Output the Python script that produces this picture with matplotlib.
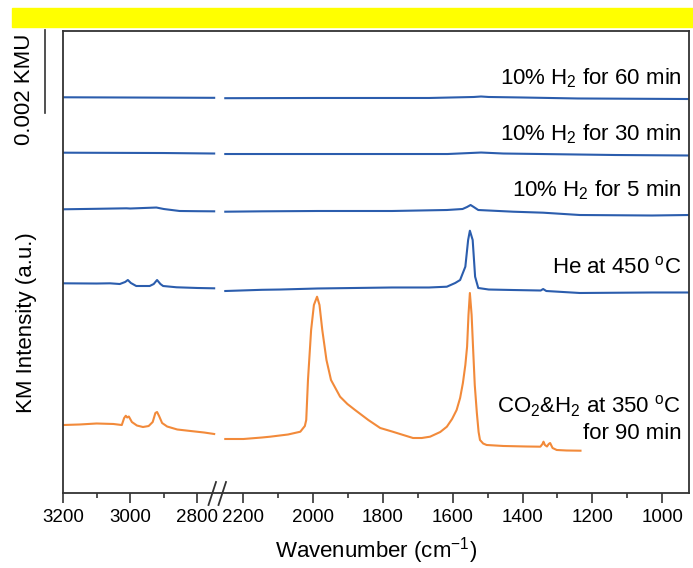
import numpy as np
import matplotlib
matplotlib.use("Agg")
import matplotlib.pyplot as plt
from matplotlib.patches import Rectangle
from matplotlib.lines import Line2D
import matplotlib.transforms as mtransforms

plt.rcParams['font.family'] = ['Liberation Sans', 'DejaVu Sans']
plt.rcParams['mathtext.fontset'] = 'custom'
plt.rcParams['mathtext.rm'] = 'Liberation Sans'
plt.rcParams['mathtext.it'] = 'Liberation Sans:italic'

# stacked KM spectra, y in units of 1e-3 KMU (offsets already included)
# left part of the broken axis (3200-2750) and right part (2250-~920)
co2_l_wn = [3200, 3150, 3100, 3050, 3025, 3018, 3013, 3009, 3004, 2995, 2980, 2962, 2945,
            2933, 2925, 2920, 2914, 2905, 2890, 2860, 2820, 2780, 2750]
co2_l_km = [1.644, 1.657, 1.681, 1.669, 1.644, 1.814, 1.869, 1.826, 1.850, 1.717, 1.632, 1.596,
            1.620, 1.717, 1.935, 1.959, 1.862, 1.693, 1.608, 1.536, 1.499, 1.463, 1.427]
co2_r_wn = [2252, 2200, 2147, 2123, 2072, 2037, 2024, 2020, 2015, 2006, 1998, 1989, 1982, 1974,
            1962, 1949, 1923, 1902, 1880, 1842, 1808, 1774, 1742, 1714, 1689, 1665, 1636, 1617,
            1602, 1589, 1579, 1571, 1564, 1559, 1555, 1551, 1546, 1542, 1537, 1531, 1526, 1522,
            1513, 1503, 1455, 1391, 1349, 1343, 1340, 1336, 1330, 1325, 1321, 1314, 1302, 1274,
            1234]
co2_r_km = [1.306, 1.306, 1.342, 1.362, 1.415, 1.482, 1.620, 1.765, 2.733, 3.942, 4.547, 4.747,
            4.547, 3.942, 3.216, 2.733, 2.329, 2.152, 2.007, 1.765, 1.572, 1.487, 1.403, 1.330,
            1.330, 1.362, 1.475, 1.603, 1.790, 2.007, 2.297, 2.660, 3.096, 3.538, 4.305, 4.837,
            4.305, 3.538, 2.612, 1.935, 1.475, 1.282, 1.197, 1.161, 1.137, 1.125, 1.120, 1.185,
            1.241, 1.161, 1.125, 1.185, 1.209, 1.088, 1.040, 1.028, 1.023]

he_l_wn = [3200, 3100, 3060, 3031, 3015, 3007, 2998, 2982, 2942, 2930, 2920, 2910, 2902,
           2862, 2800, 2750]
he_l_km = [5.071, 5.066, 5.071, 5.054, 5.103, 5.151, 5.079, 5.006, 5.006, 5.054, 5.151,
           5.054, 5.006, 4.975, 4.958, 4.950]
he_r_wn = [2252, 2147, 2094, 1987, 1881, 1774, 1668, 1617, 1593, 1579, 1564, 1556, 1551,
           1543, 1536, 1527, 1497, 1427, 1348, 1341, 1332, 1236, 1029, 923]
he_r_km = [4.885, 4.914, 4.921, 4.946, 4.958, 4.970, 4.970, 4.989, 5.079, 5.151, 5.473,
           6.119, 6.343, 6.119, 5.231, 4.958, 4.921, 4.909, 4.897, 4.933, 4.885, 4.837,
           4.849, 4.849]

h5_l_wn = [3200, 3100, 3011, 3000, 2922, 2900, 2853, 2800, 2750]
h5_l_km = [6.861, 6.873, 6.885, 6.880, 6.904, 6.868, 6.820, 6.815, 6.812]
h5_r_wn = [2252, 2147, 1987, 1774, 1617, 1572, 1559, 1549, 1540, 1527, 1427, 1341, 1236,
           1029, 923]
h5_r_km = [6.803, 6.812, 6.820, 6.820, 6.844, 6.868, 6.917, 6.965, 6.917, 6.844, 6.803,
           6.779, 6.723, 6.711, 6.723]

h30_l_wn = [3200, 2900, 2750]
h30_l_km = [8.230, 8.222, 8.210]
h30_r_wn = [2252, 1987, 1615, 1519, 1455, 1348, 1135, 923]
h30_r_km = [8.198, 8.198, 8.198, 8.234, 8.210, 8.198, 8.174, 8.162]

h60_l_wn = [3200, 2750]
h60_l_km = [9.570, 9.557]
h60_r_wn = [2252, 1987, 1668, 1540, 1519, 1497, 1402, 1242, 923]
h60_r_km = [9.548, 9.553, 9.553, 9.577, 9.589, 9.577, 9.565, 9.541, 9.528]

labels = ['10% H$_2$ for 60 min', '10% H$_2$ for 30 min', '10% H$_2$ for 5 min',
          'He at 450 $^{\\rm o}$C', 'CO$_2$&H$_2$ at 350 $^{\\rm o}$C\nfor 90 min']
label_y = [10.036, 8.682, 7.328, 5.466, 1.790]

major_ticks = [3200, 3000, 2800, 2200, 2000, 1800, 1600, 1400, 1200, 1000]
minor_ticks = [3100, 2900, 2100, 1900, 1700, 1500, 1300, 1100]

blue = '#2B5DAD'
orange = '#F28A3A'

# broken x axis: 2733-2267 collapsed, slightly narrower scale on the left part
B_LO = 2267
B_HI = 2733
GAP = 0.001
R2 = 0.9628
Q1 = B_LO + (B_HI - B_LO) * GAP


def forward(w):
    w = np.asarray(w, dtype=float)
    return np.where(w <= B_LO, w,
                    np.where(w <= B_HI, B_LO + (w - B_LO) * GAP, Q1 + (w - B_HI) * R2))


def inverse(q):
    q = np.asarray(q, dtype=float)
    return np.where(q <= B_LO, q,
                    np.where(q <= Q1, B_LO + (q - B_LO) / GAP, B_HI + (q - Q1) / R2))


fig = plt.figure(figsize=(6.93, 5.68), dpi=100)
ax = fig.add_axes([63 / 693, 75 / 568, 626 / 693, 462 / 568])
ax.set_xscale('function', functions=(forward, inverse))

traces = [(h60_l_wn, h60_l_km, h60_r_wn, h60_r_km, blue),
          (h30_l_wn, h30_l_km, h30_r_wn, h30_r_km, blue),
          (h5_l_wn, h5_l_km, h5_r_wn, h5_r_km, blue),
          (he_l_wn, he_l_km, he_r_wn, he_r_km, blue),
          (co2_l_wn, co2_l_km, co2_r_wn, co2_r_km, orange)]
for lw, lk, rw, rk, c in traces:
    ax.plot(lw, lk, color=c, lw=1.5)
    ax.plot(rw, rk, color=c, lw=1.5)

ax.set_xlim(3200, 923)
ax.set_ylim(0, 462 / 41.35)
ax.set_xticks(major_ticks)
ax.set_xticks(minor_ticks, minor=True)
ax.set_xticklabels([str(t) for t in major_ticks])
ax.set_yticks([])
ax.tick_params(axis='x', which='major', length=7.5, width=1.2, labelsize=13.5, pad=4,
               color='#333333')
ax.tick_params(axis='x', which='minor', length=3.5, width=1.2, color='#333333')
for s in ax.spines.values():
    s.set_linewidth(1.3)
    s.set_color('#333333')

bt = mtransforms.blended_transform_factory(ax.transAxes, ax.transData)
for txt, y in zip(labels, label_y):
    ax.text(0.988, y, txt, transform=bt, ha='right', va='center', fontsize=16, linespacing=1.25)

# scale bar, 0.002 KMU
ax.plot([-18 / 626, -18 / 626], [9.2, 11.2], color='#333333', lw=1.2, transform=bt, clip_on=False)
fig.text(25 / 693, 1 - 89 / 568, '0.002 KMU', rotation=90, ha='center', va='center', fontsize=16)

# axis break marks
for x0 in (208.5, 218.5):
    fig.add_artist(Line2D([x0 / 693, (x0 + 7.5) / 693], [1 - 505 / 568, 1 - 482 / 568],
                          color='#333333', lw=1.3))

fig.text(376 / 693, 1 - 551 / 568, 'Wavenumber (cm$^{-1}$)', ha='center', va='center', fontsize=16)
fig.text(27 / 693, 1 - 323 / 568, 'KM Intensity (a.u.)', rotation=90, ha='center', va='center',
         fontsize=16)

# yellow band at the top
fig.add_artist(Rectangle((12 / 693, 1 - 27 / 568), 1 - 12 / 693, 19 / 568,
                         transform=fig.transFigure, color='#FFFF00', zorder=5))

fig.savefig('out.png', dpi=100)
